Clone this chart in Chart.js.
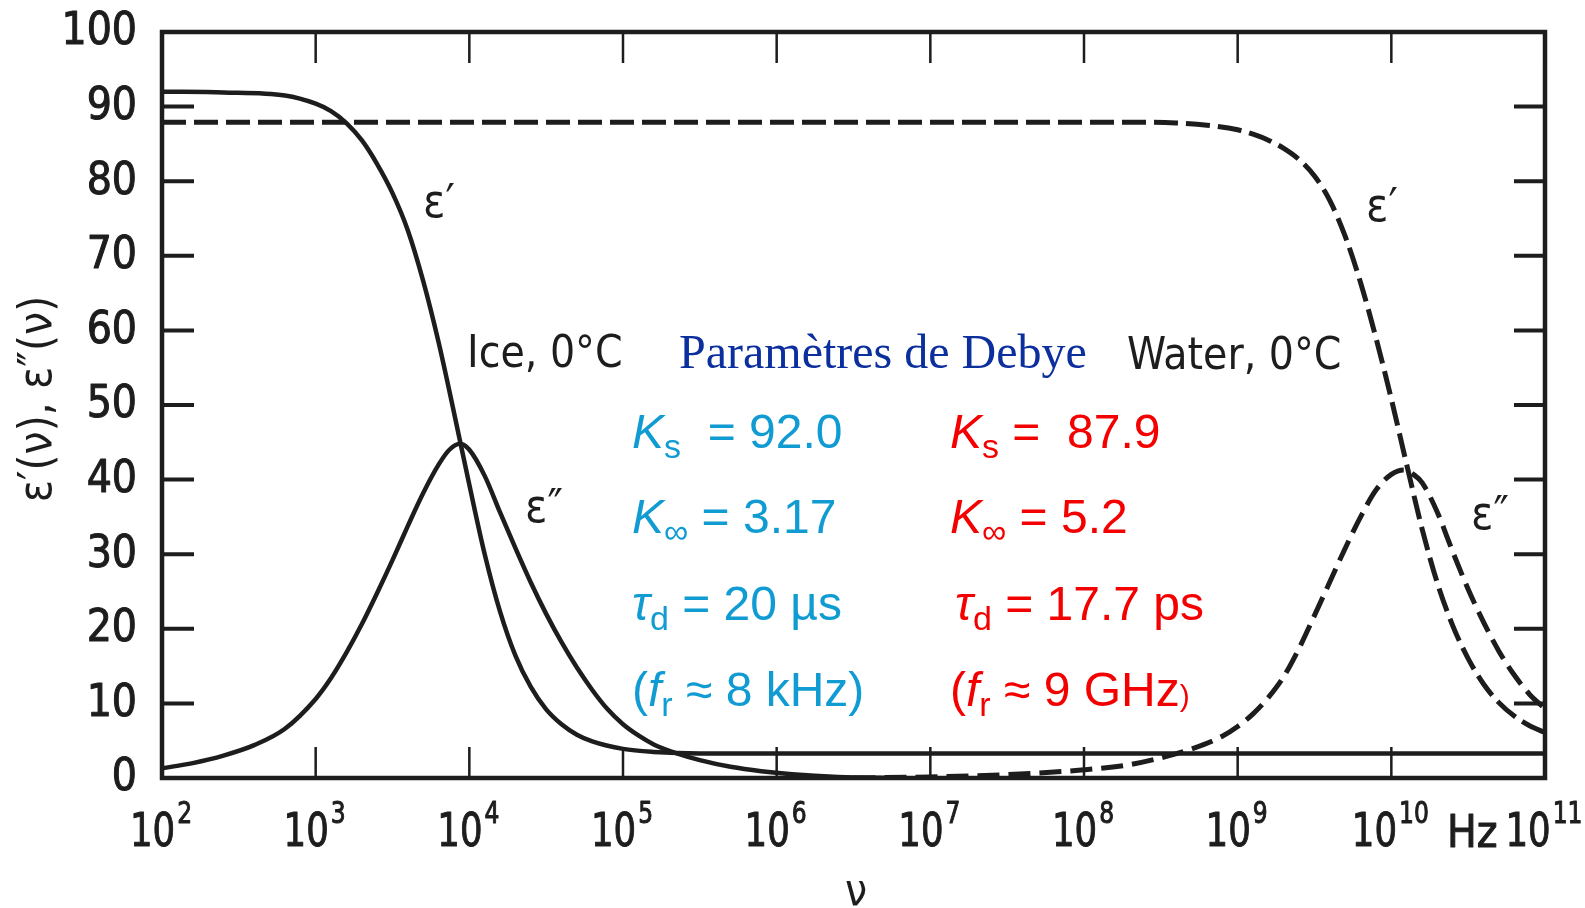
<!DOCTYPE html>
<html>
<head>
<meta charset="utf-8">
<script src="https://cdn.jsdelivr.net/npm/chart.js@4.4.0/dist/chart.umd.min.js"></script>
<style>
  body { margin: 0; background: #fff; }
  #wrap { width: 1585px; height: 908px; }
</style>
</head>
<body>
<div id="wrap"><canvas id="debyeChart" width="1585" height="908"></canvas></div>
<script>
const iceRealExp = [2, 2.4, 2.8, 3.0, 3.1, 3.2, 3.3, 3.4, 3.5, 3.6, 3.7, 3.8, 3.9, 4.0, 4.1, 4.2, 4.3, 4.4, 4.5, 4.6, 4.7, 4.8, 5.0, 5.2, 5.5, 6, 7, 8, 9, 10, 11];
const iceReal = [92.0, 91.9, 91.5, 90.4, 89.4, 87.8, 85.5, 82.3, 78.4, 73.4, 66.6, 58.4, 49.0, 39.3, 30.0, 22.3, 16.4, 12.2, 9.2, 7.2, 5.8, 4.9, 3.9, 3.5, 3.3, 3.3, 3.3, 3.3, 3.3, 3.3, 3.3];

const iceImagExp = [2, 2.2, 2.4, 2.6, 2.8, 3.0, 3.1, 3.2, 3.3, 3.4, 3.5, 3.6, 3.7, 3.8, 3.87, 3.94, 4.0, 4.1, 4.2, 4.3, 4.4, 4.5, 4.6, 4.7, 4.8, 4.9, 5.0, 5.1, 5.2, 5.35, 5.5, 5.7, 5.9, 6.1, 6.4, 6.8];
const iceImag = [1.3, 2.0, 3.0, 4.4, 6.6, 10.6, 13.4, 16.8, 20.6, 24.8, 29.2, 33.8, 38.2, 42.0, 44.0, 44.8, 44.0, 40.5, 35.6, 30.8, 26.2, 22.0, 18.2, 14.8, 11.8, 9.2, 7.2, 5.7, 4.5, 3.3, 2.4, 1.5, 0.9, 0.5, 0.15, 0];

const waterRealExp = [2, 8.4, 8.6, 8.8, 9.0, 9.1, 9.2, 9.3, 9.4, 9.5, 9.6, 9.7, 9.8, 9.9, 10.0, 10.1, 10.2, 10.3, 10.4, 10.5, 10.6, 10.7, 10.8, 10.9, 11];
const waterReal = [87.9, 87.9, 87.8, 87.5, 86.9, 86.3, 85.5, 84.4, 82.9, 80.7, 77.4, 72.6, 66.4, 59.0, 50.8, 42.0, 33.4, 26.1, 20.4, 16.0, 12.6, 10.1, 8.3, 7.0, 6.1];

const waterImagExp = [6.5, 7.0, 7.5, 8.0, 8.3, 8.5, 8.7, 8.9, 9.0, 9.1, 9.2, 9.3, 9.4, 9.5, 9.6, 9.7, 9.8, 9.9, 10.0, 10.08, 10.15, 10.2, 10.3, 10.4, 10.5, 10.6, 10.7, 10.8, 10.9, 11];
const waterImag = [0, 0.15, 0.45, 1.1, 1.8, 2.7, 3.9, 5.6, 6.9, 8.6, 10.8, 13.6, 17.4, 21.8, 26.3, 30.8, 35.0, 38.6, 40.7, 41.3, 40.6, 39.6, 35.6, 30.3, 25.3, 20.9, 17.0, 13.8, 11.2, 9.3];

const xTickExps = [2, 3, 4, 5, 6, 7, 8, 9, 10, 11];
const yTickValues = [0, 10, 20, 30, 40, 50, 60, 70, 80, 90, 100];

const ink = '#1d1d1d';
const narrow = "'Liberation Sans Narrow', 'DejaVu Sans Condensed', sans-serif";
const cond = "'DejaVu Sans Condensed', 'DejaVu Sans', sans-serif";
const arial = "'Liberation Sans', Arial, sans-serif";
const cyan = '#109bd2';
const red = '#f40000';

function toPoints(exps, vals) {
    return exps.map((e, i) => ({ x: Math.pow(10, e), y: vals[i] }));
}

// fill plus a thin stroke, the scanned labels are a bit heavier
function heavyText(ctx, s, x, y) {
    ctx.fillText(s, x, y);
    ctx.strokeText(s, x, y);
}

// draws a row of text pieces with their own fonts (for subscripts)
function textRun(ctx, x, y, parts, color) {
    ctx.fillStyle = color;
    ctx.textAlign = 'left';
    ctx.textBaseline = 'alphabetic';
    parts.forEach(p => {
        ctx.font = p[1];
        ctx.fillText(p[0], x, y + (p[2] || 0));
        x += ctx.measureText(p[0]).width;
    });
}

const decorPlugin = {
    id: 'decor',
    afterDraw(chart) {
        const { ctx, chartArea: a, scales: { x, y } } = chart;
        ctx.save();
        ctx.strokeStyle = ink;
        ctx.fillStyle = ink;
        ctx.lineCap = 'butt';

        // frame
        ctx.lineWidth = 4.5;
        ctx.strokeRect(a.left, a.top, a.right - a.left, a.bottom - a.top);

        // inward ticks
        xTickExps.forEach(e => {
            const px = x.getPixelForValue(Math.pow(10, e));
            ctx.lineWidth = 2.5;
            ctx.beginPath();
            ctx.moveTo(px, a.top); ctx.lineTo(px, a.top + 31);
            ctx.moveTo(px, a.bottom); ctx.lineTo(px, a.bottom - 31);
            ctx.stroke();
        });
        yTickValues.forEach(v => {
            const py = y.getPixelForValue(v);
            ctx.lineWidth = 4;
            ctx.beginPath();
            ctx.moveTo(a.left, py); ctx.lineTo(a.left + 32, py);
            ctx.moveTo(a.right - 31, py); ctx.lineTo(a.right, py);
            ctx.stroke();
        });

        ctx.lineWidth = 1;
        ctx.lineJoin = 'round';

        // y tick labels
        ctx.font = '44px ' + narrow;
        ctx.textAlign = 'right';
        ctx.textBaseline = 'middle';
        yTickValues.forEach(v => {
            heavyText(ctx, String(v), 137, y.getPixelForValue(v) + 1);
        });

        // x tick labels: 10 with a raised exponent, squeezed a little
        const sq = 0.84;
        xTickExps.forEach(e => {
            const px = x.getPixelForValue(Math.pow(10, e));
            ctx.font = '47px ' + narrow;
            const wBase = ctx.measureText('10').width * sq;
            ctx.font = '31px ' + narrow;
            const wExp = ctx.measureText(String(e)).width * sq;
            const left = px - (wBase + wExp) / 2 - 2;
            ctx.save();
            ctx.translate(left, 0);
            ctx.scale(sq, 1);
            ctx.textAlign = 'left';
            ctx.textBaseline = 'alphabetic';
            ctx.font = '47px ' + narrow;
            heavyText(ctx, '10', 0, 846);
            ctx.font = '31px ' + narrow;
            heavyText(ctx, String(e), (wBase + 2) / sq, 823);
            ctx.restore();
        });
        ctx.textAlign = 'left';
        ctx.textBaseline = 'alphabetic';
        ctx.font = '44px ' + narrow;
        heavyText(ctx, 'Hz', 1447, 847);

        // axis titles
        ctx.font = '44px ' + cond;
        ctx.textAlign = 'center';
        ctx.fillText('\u03bd', 856, 905);
        ctx.save();
        ctx.translate(51, 399);
        ctx.rotate(-Math.PI / 2);
        ctx.font = '46px ' + cond;
        ctx.fillText('\u03b5\u2032(\u03bd), \u03b5\u2033(\u03bd)', 0, 0);
        ctx.restore();

        // curve labels
        ctx.font = '46px ' + cond;
        ctx.textAlign = 'center';
        ctx.textBaseline = 'middle';
        ctx.fillText('\u03b5\u2032', 439, 205);
        ctx.fillText('\u03b5\u2033', 544, 510);
        ctx.fillText('\u03b5\u2032', 1382, 209);
        ctx.fillText('\u03b5\u2033', 1490, 517);

        // sample names and title
        ctx.textAlign = 'left';
        ctx.textBaseline = 'alphabetic';
        ctx.font = '44px ' + cond;
        ctx.fillText('Ice, 0\u00b0C', 467, 367);
        ctx.fillText('Water, 0\u00b0C', 1127, 369);
        ctx.fillStyle = '#0c2f9e';
        ctx.font = "48px 'Liberation Serif', 'Times New Roman', serif";
        ctx.fillText('Param\u00e8tres de Debye', 679, 368);

        // Debye parameters
        const big = '48px ' + arial;
        const ital = 'italic 48px ' + arial;
        const sub = '34px ' + arial;
        textRun(ctx, 632, 448, [['K', ital], ['s', sub, 10], ['  = 92.0', big]], cyan);
        textRun(ctx, 632, 533, [['K', ital], ['\u221e', sub, 10], [' = 3.17', big]], cyan);
        textRun(ctx, 632, 620, [['\u03c4', ital], ['d', sub, 10], [' = 20 \u00b5s', big]], cyan);
        textRun(ctx, 632, 706, [['(', big], ['f', ital], ['r', sub, 10], [' \u2248 8 kHz)', big]], cyan);

        textRun(ctx, 950, 448, [['K', ital], ['s', sub, 10], [' =  87.9', big]], red);
        textRun(ctx, 950, 533, [['K', ital], ['\u221e', sub, 10], [' = 5.2', big]], red);
        textRun(ctx, 955, 620, [['\u03c4', ital], ['d', sub, 10], [' = 17.7 ps', big]], red);
        textRun(ctx, 950, 706, [['(', big], ['f', ital], ['r', sub, 10], [' \u2248 9 GHz', big], [')', '30px ' + arial]], red);

        ctx.restore();
    }
};

const ctx = document.getElementById('debyeChart');

new Chart(ctx, {
    type: 'line',
    data: {
        datasets: [{
            label: "ice eps'",
            data: toPoints(iceRealExp, iceReal),
            borderColor: ink,
            borderWidth: 4.5
        }, {
            label: "ice eps''",
            data: toPoints(iceImagExp, iceImag),
            borderColor: ink,
            borderWidth: 4.5
        }, {
            label: "water eps'",
            data: toPoints(waterRealExp, waterReal),
            borderColor: ink,
            borderWidth: 5,
            borderDash: [24, 8]
        }, {
            label: "water eps''",
            data: toPoints(waterImagExp, waterImag),
            borderColor: ink,
            borderWidth: 5,
            borderDash: [22, 9]
        }]
    },
    options: {
        responsive: false,
        animation: false,
        cubicInterpolationMode: 'monotone',
        elements: {
            point: { radius: 0 },
            line: { fill: false, borderCapStyle: 'butt' }
        },
        layout: {
            padding: { left: 162, right: 40, top: 32, bottom: 130 }
        },
        plugins: {
            legend: { display: false },
            tooltip: { enabled: false }
        },
        scales: {
            x: {
                type: 'logarithmic',
                display: false,
                min: 1e2,
                max: 1e11
            },
            y: {
                type: 'linear',
                display: false,
                min: 0,
                max: 100
            }
        }
    },
    plugins: [decorPlugin]
});
</script>
</body>
</html>
